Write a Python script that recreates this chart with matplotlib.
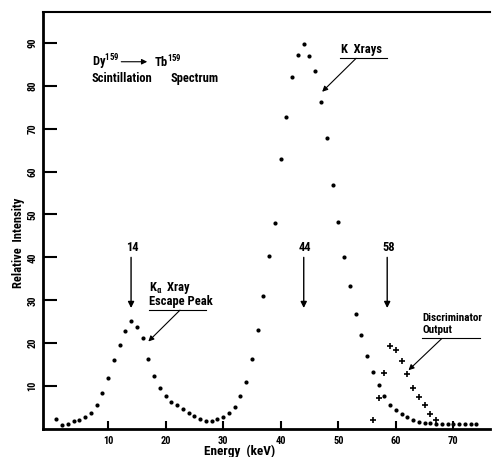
import numpy as np
from matplotlib import pyplot as plt
from matplotlib import font_manager

# look for a narrow face, the scan uses a condensed typewriter-ish font
names = set(f.name for f in font_manager.fontManager.ttflist)
narrow = [n for n in ['DejaVu Sans Condensed', 'Liberation Sans Narrow', 'Roboto Condensed'] if n in names]
plt.rcParams['font.family'] = narrow + ['DejaVu Sans']
plt.rcParams['font.weight'] = 'bold'
plt.rcParams['font.stretch'] = 'condensed'
plt.rcParams['mathtext.default'] = 'regular'

# scintillation spectrum (dots)
energy = [1, 2, 3, 4, 5, 6, 7, 8, 9, 10, 11, 12, 13, 14, 15, 16, 17, 18, 19, 20,
          21, 22, 23, 24, 25, 26, 27, 28, 29, 30, 31, 32, 33, 34, 35, 36, 37, 38, 39, 40,
          41, 42, 43, 44, 45, 46, 47, 48, 49, 50, 51, 52, 53, 54, 55, 56, 57, 58, 59, 60,
          61, 62, 63, 64, 65, 66, 67, 68, 69, 70, 71, 72, 73, 74]
intensity = [2.3, 0.9, 1.2, 1.8, 2.0, 2.9, 3.8, 5.7, 8.5, 11.9, 16.0, 19.5, 22.8, 25.2, 23.8, 21.3, 16.4, 12.3, 9.5, 7.8,
             6.3, 5.7, 4.7, 3.7, 3.0, 2.3, 1.9, 1.9, 2.3, 2.8, 3.7, 5.2, 7.8, 10.9, 16.4, 23.1, 31.0, 40.3, 48.1, 62.9,
             72.8, 82.0, 87.2, 89.7, 86.9, 83.4, 76.2, 67.8, 56.9, 48.3, 40.0, 33.4, 26.9, 21.8, 16.9, 13.3, 10.2, 7.7, 5.7, 4.4,
             3.4, 2.7, 2.1, 1.7, 1.4, 1.3, 1.2, 1.2, 1.2, 1.2, 1.2, 1.2, 1.2, 1.2]

# discriminator output (crosses)
disc_energy = [56, 57, 58, 59, 60, 61, 62, 63, 64, 65, 66, 67]
disc_intensity = [2.1, 7.2, 13.1, 19.3, 18.4, 15.9, 12.7, 9.5, 7.5, 5.6, 3.6, 2.0]

peaks = [14, 44, 58.5]
peak_labels = ['14', '44', '58']

fig = plt.figure(figsize=(4.92, 4.57), dpi=100)
ax = fig.add_axes([0.0874, 0.0613, 0.909, 0.9125])

ax.plot(energy, intensity, 'o', color='black', markersize=3, markeredgewidth=0)
ax.plot(disc_energy, disc_intensity, '+', color='black', markersize=5, markeredgewidth=1.2)

ax.set_xlim(-1.3, 76.4)
ax.set_ylim(0, 97.2)

ax.set_xticks([10, 20, 30, 40, 50, 60, 70])
ax.set_yticks([10, 20, 30, 40, 50, 60, 70, 80, 90])
ax.tick_params(axis='y', direction='in', length=10, width=1.5, labelsize=7.5, pad=4, labelrotation=90)
ax.tick_params(axis='x', direction='in', length=6, width=1.5, labelsize=7.5, pad=5)
for lab in ax.get_yticklabels():
    lab.set_va('center')

ax.spines['right'].set_visible(False)
ax.spines['left'].set_linewidth(2)
ax.spines['bottom'].set_linewidth(2)
ax.spines['top'].set_linewidth(1.5)

arrow = dict(arrowstyle='-|>', lw=1, color='black', mutation_scale=9, shrinkA=0, shrinkB=0)
thin = dict(arrowstyle='-|>', lw=0.8, color='black', mutation_scale=8, shrinkA=0, shrinkB=0)

fs = 9 if narrow else 7
fs_disc = 8 if narrow else 7
fs_title = 9 if narrow else 7.5

# peak markers
for e, lab in zip(peaks, peak_labels):
    ax.annotate('', xy=(e, 28.2), xytext=(e, 40), arrowprops=arrow)
    ax.text(e + 0.2, 42.4, lab, ha='center', va='center', fontsize=9)

# title
ax.text(7.2, 85.5, 'Dy$^{159}$', ha='left', va='center', fontsize=fs_title)
ax.annotate('', xy=(16.8, 85.6), xytext=(12.3, 85.6), arrowprops=thin)
ax.text(17.9, 85.5, 'Tb$^{159}$', ha='left', va='center', fontsize=fs_title)
ax.text(7.2, 81.6, 'Scintillation', ha='left', va='center', fontsize=fs_title)
ax.text(20.8, 81.6, 'Spectrum', ha='left', va='center', fontsize=fs_title)

# K Xrays
ax.text(50.5, 88.4, 'K  Xrays', ha='left', va='center', fontsize=fs)
ax.plot([50.3, 58.4], [86.4, 86.4], color='black', lw=0.8)
ax.annotate('', xy=(47.2, 78.6), xytext=(53.1, 86.4), arrowprops=thin)

# escape peak
ax.text(17.1, 32.9, r'K$_\alpha$  Xray', ha='left', va='center', fontsize=fs)
ax.text(17.1, 29.6, 'Escape Peak', ha='left', va='center', fontsize=fs)
ax.plot([17.1, 27.0], [27.7, 27.7], color='black', lw=0.8)
ax.annotate('', xy=(17.0, 20.4), xytext=(22.5, 27.7), arrowprops=thin)

# discriminator
ax.text(64.6, 25.9, 'Discriminator', ha='left', va='center', fontsize=fs_disc)
ax.text(64.6, 23.1, 'Output', ha='left', va='center', fontsize=fs_disc)
ax.plot([64.6, 74.7], [21.1, 21.1], color='black', lw=0.8)
ax.annotate('', xy=(62.2, 13.7), xytext=(68.0, 21.1), arrowprops=thin)

fig.text(240 / 492, 0.012, 'Energy  (keV)', ha='center', va='center', fontsize=9.5)
fig.text(19 / 492, 0.468, 'Relative  Intensity', ha='center', va='center', rotation=90, fontsize=9)

fig.savefig('out.png', dpi=100)
